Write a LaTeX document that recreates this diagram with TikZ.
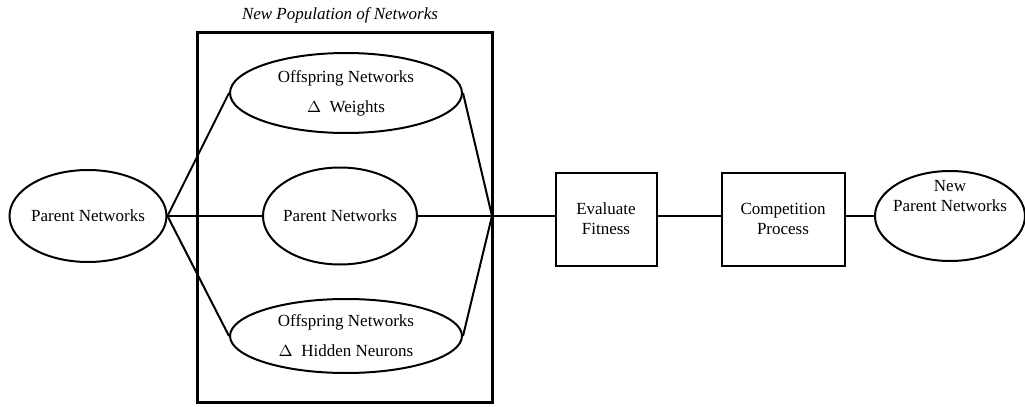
\documentclass[tikz,border=0pt]{standalone}
\usepackage{fontspec}
\setmainfont{Liberation Serif}
\usetikzlibrary{shapes.geometric}

\begin{document}
\begin{tikzpicture}[
          x=0.5pt, y=-0.5pt,
          every node/.style={font=\fontsize{8.5}{10}\selectfont, align=center},
          netellipse/.style={ellipse, draw, line width=1pt, inner xsep=-6pt, inner ysep=0pt},
          stagebox/.style={rectangle, draw, line width=1pt, minimum height=46.5pt},
          link/.style={draw, line width=1pt}
        ]
        \useasboundingbox (0,0) rectangle (1025,407);
        % population
        \node[draw, line width=1.5pt, minimum width=147.5pt, minimum height=185pt] (pop) at (344.5,217) {};
        \node[font=\fontsize{8.5}{10}\selectfont\itshape] (poptitle) at (340,15) {New Population of Networks};
        % parents
        \node[netellipse, minimum width=78.5pt, minimum height=46pt] (parent) at (88,216) {Parent Networks};
        % 1
        \node[netellipse, minimum width=116pt, minimum height=40pt] (weights) at (346,93)
          {Offspring Networks\\[5pt]$\Delta$\enspace Weights};
        % 2
        \node[netellipse, minimum width=77pt, minimum height=48.5pt] (middle) at (340,216) {Parent Networks};
        % 3
        \node[netellipse, minimum width=116pt, minimum height=37pt] (hidden) at (346,336)
          {Offspring Networks\\[5pt]$\Delta$\enspace Hidden Neurons};
        \coordinate (join) at (492,216);
        % stages
        \node[stagebox, minimum width=50.5pt] (evaluate) at (606,219) {Evaluate\\Fitness};
        \node[stagebox, minimum width=61.5pt] (compete) at (783,219) {Competition\\Process};
        \node[netellipse, minimum width=75pt, minimum height=45pt,
              label={[align=center, yshift=10pt]center:New\\Parent Networks}] (newparent) at (950,216) {};
        % links
        \draw[link] (parent.east) -- (weights.west);
        \draw[link] (parent.east) -- (middle.west);
        \draw[link] (parent.east) -- (hidden.west);
        \draw[link] (weights.east) -- (join);
        \draw[link] (middle.east) -- (join);
        \draw[link] (hidden.east) -- (join);
        \draw[link] (join) -- (join -| evaluate.west);
        \draw[link] (join -| evaluate.east) -- (join -| compete.west);
        \draw[link] (join -| compete.east) -- (newparent.west);
\end{tikzpicture}
\end{document}
